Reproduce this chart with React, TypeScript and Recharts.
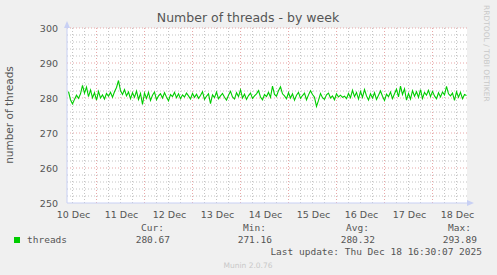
import { LineChart, Line, XAxis, YAxis, CartesianGrid, ReferenceLine } from "recharts";

// hours counted from 10 Dec 00:00, one sample per hour
const threads: number[] = [
  281.8, 279.5, 278.3, 279.6, 280.8, 279.9, 281.2, 283.6, 281.4, 283.1,
  280.4, 282.3, 280.1, 281.5, 279.4, 281.9, 280.0, 280.9, 279.7, 281.3,
  280.5, 281.6, 280.2, 281.8, 283.0, 285.0, 282.1, 281.0, 282.4, 280.6,
  281.7, 279.8, 281.5, 280.2, 282.0, 279.6, 281.3, 278.2, 281.4, 279.9,
  281.6, 279.3, 280.8, 281.7, 279.5, 280.6, 281.2, 280.0, 281.5, 280.3,
  279.2, 281.0, 280.4, 281.6, 280.1, 281.2, 279.8, 280.9, 280.3, 281.4,
  280.6, 279.7, 281.3, 280.2, 281.1, 279.9, 280.7, 281.8, 279.6, 280.5,
  281.2, 278.4, 280.9, 280.1, 281.7, 279.8, 280.6, 281.3, 280.2, 279.4,
  280.8, 281.9, 280.3, 279.7, 281.5, 280.4, 282.3, 280.0, 281.1, 279.6,
  280.7, 281.4, 279.9, 280.6, 281.2, 282.1, 280.3, 279.5, 281.0, 280.4,
  281.6, 280.2, 283.4, 281.0, 280.5, 282.1, 283.2, 281.2, 280.6, 279.8,
  281.5, 280.0, 281.2, 279.4, 280.8, 281.6, 279.9, 280.7, 281.4, 279.5,
  280.9, 282.1, 281.0, 280.2, 277.6, 279.3, 281.3, 280.1, 279.6, 280.9,
  281.4, 280.0, 280.6, 279.5, 281.2, 280.3, 280.8, 280.2, 280.5, 279.8,
  281.3, 280.1, 282.2, 280.4, 281.6, 279.7, 281.9, 280.2, 282.4, 280.6,
  279.4, 281.2, 280.0, 281.5, 279.6, 280.8, 282.0, 280.5, 279.3, 281.1,
  280.4, 281.7, 279.8, 281.2, 282.5, 280.3, 283.4, 281.0, 282.6, 279.4,
  281.3, 279.7, 282.1, 280.5, 281.8, 280.2, 282.4, 279.9, 281.6, 280.8,
  282.2, 280.4, 281.9, 280.6, 279.8, 281.5, 280.3, 281.7, 280.9, 283.3,
  281.2, 280.6, 281.4, 279.3, 281.8, 280.2, 281.6, 279.8, 281.0, 280.7,
];
const firstHour = 10;

const dayLabels = ["10 Dec", "11 Dec", "12 Dec", "13 Dec", "14 Dec", "15 Dec", "16 Dec", "17 Dec", "18 Dec"];
const yTicks = [250, 260, 270, 280, 290, 300];
const yMinor = [252, 254, 256, 258, 262, 264, 266, 268, 272, 274, 276, 278, 282, 284, 286, 288, 292, 294, 296, 298];
const midnights = [24, 48, 72, 96, 120, 144, 168, 192];
const minorHours = [12, 18, 30, 36, 42, 54, 60, 66, 78, 84, 90, 102, 108, 114, 126, 132, 138, 150, 156, 162, 174, 180, 186, 198, 204];

const legendCols = [
  { head: "Cur:", value: "280.67", x: 170 },
  { head: "Min:", value: "271.16", x: 272 },
  { head: "Avg:", value: "280.32", x: 375 },
  { head: "Max:", value: "293.89", x: 477 },
];

const data = threads.map((v, i) => ({ hour: firstHour + i, threads: v }));
const labelTicks = dayLabels.map((_, i) => 12 + i * 24);

const TXT = "#555555";
const SANS = "'DejaVu Sans', sans-serif";
const MONO = "'DejaVu Sans Mono', monospace";
const AXIS = "#c8d0f4";

function XTick(props: any) {
  const { x, y, payload } = props;
  const idx = Math.round((payload.value - 12) / 24);
  return (
    <text x={x + 1} y={y + 13} textAnchor="middle" fontSize={9.5} fill={TXT} fontFamily={SANS}>
      {dayLabels[idx]}
    </text>
  );
}

function YTick(props: any) {
  const { x, y, payload } = props;
  return (
    <text x={x - 7} y={y + 3.5} textAnchor="end" fontSize={9.5} fill={TXT} fontFamily={SANS}>
      {payload.value}
    </text>
  );
}

export default function App() {
  return (
    <div style={{ position: "relative", width: 497, height: 275, background: "#f0f0f0" }}>
      <style>{`body{margin:0}`}</style>
      <LineChart width={497} height={275} data={data} margin={{ top: 28, right: 30, bottom: 0, left: 0 }}>
        <CartesianGrid fill="#ffffff" horizontal={false} vertical={false} />
        {yMinor.map((v) => (
          <ReferenceLine key={"ym" + v} y={v} stroke="#c4c4c4" strokeDasharray="1 2" />
        ))}
        {minorHours.map((h) => (
          <ReferenceLine key={"xm" + h} x={h} stroke="#c4c4c4" strokeDasharray="1 2" />
        ))}
        {yTicks.slice(1).map((v) => (
          <ReferenceLine key={"y" + v} y={v} stroke="#e8a8a8" strokeDasharray="1 2" />
        ))}
        {midnights.map((h) => (
          <ReferenceLine key={"x" + h} x={h} stroke="#e8a8a8" strokeDasharray="1 2" />
        ))}
        <XAxis
          dataKey="hour"
          type="number"
          domain={[9.25, 209.25]}
          ticks={labelTicks}
          tick={<XTick />}
          tickLine={false}
          tickSize={0}
          height={72}
          axisLine={{ stroke: AXIS }}
          allowDataOverflow
        />
        <YAxis
          type="number"
          domain={[250, 300]}
          ticks={yTicks}
          tick={<YTick />}
          tickLine={false}
          tickSize={0}
          width={67}
          axisLine={{ stroke: AXIS }}
          allowDataOverflow
        />
        <Line
          type="linear"
          dataKey="threads"
          stroke="#00cc00"
          strokeWidth={1.1}
          dot={false}
          isAnimationActive={false}
        />
      </LineChart>
      <svg width={497} height={275} style={{ position: "absolute", left: 0, top: 0, pointerEvents: "none" }}>
        <polygon points="64,28 70,28 67,21" fill={AXIS} />
        <polygon points="467,200 467,206 474,203" fill={AXIS} />
        <text x={248} y={22} textAnchor="middle" fontSize={12.5} fill={TXT} fontFamily={SANS}>
          Number of threads - by week
        </text>
        <text transform="translate(13,115) rotate(-90)" textAnchor="middle" fontSize={10.5} fill={TXT} fontFamily={SANS}>
          number of threads
        </text>
        <text transform="translate(484,5) rotate(90)" textAnchor="start" fontSize={7.5} fill="#c8c8c8" fontFamily={SANS}>
          RRDTOOL / TOBI OETIKER
        </text>
        <rect x={14} y={237} width={6} height={6} fill="#00cc00" />
        <text x={27} y={243} fontSize={9.5} fill={TXT} fontFamily={MONO}>threads</text>
        {legendCols.map((c) => (
          <g key={c.head}>
            <text x={c.x - 6} y={231} textAnchor="end" fontSize={9.5} fill={TXT} fontFamily={MONO}>{c.head}</text>
            <text x={c.x} y={243} textAnchor="end" fontSize={9.5} fill={TXT} fontFamily={MONO}>{c.value}</text>
          </g>
        ))}
        <text x={482} y={255} textAnchor="end" fontSize={9.5} fill={TXT} fontFamily={MONO}>
          Last update: Thu Dec 18 16:30:07 2025
        </text>
        <text x={248} y={268} textAnchor="middle" fontSize={7.5} fill="#c8c8c8" fontFamily={SANS}>
          Munin 2.0.76
        </text>
      </svg>
    </div>
  );
}
